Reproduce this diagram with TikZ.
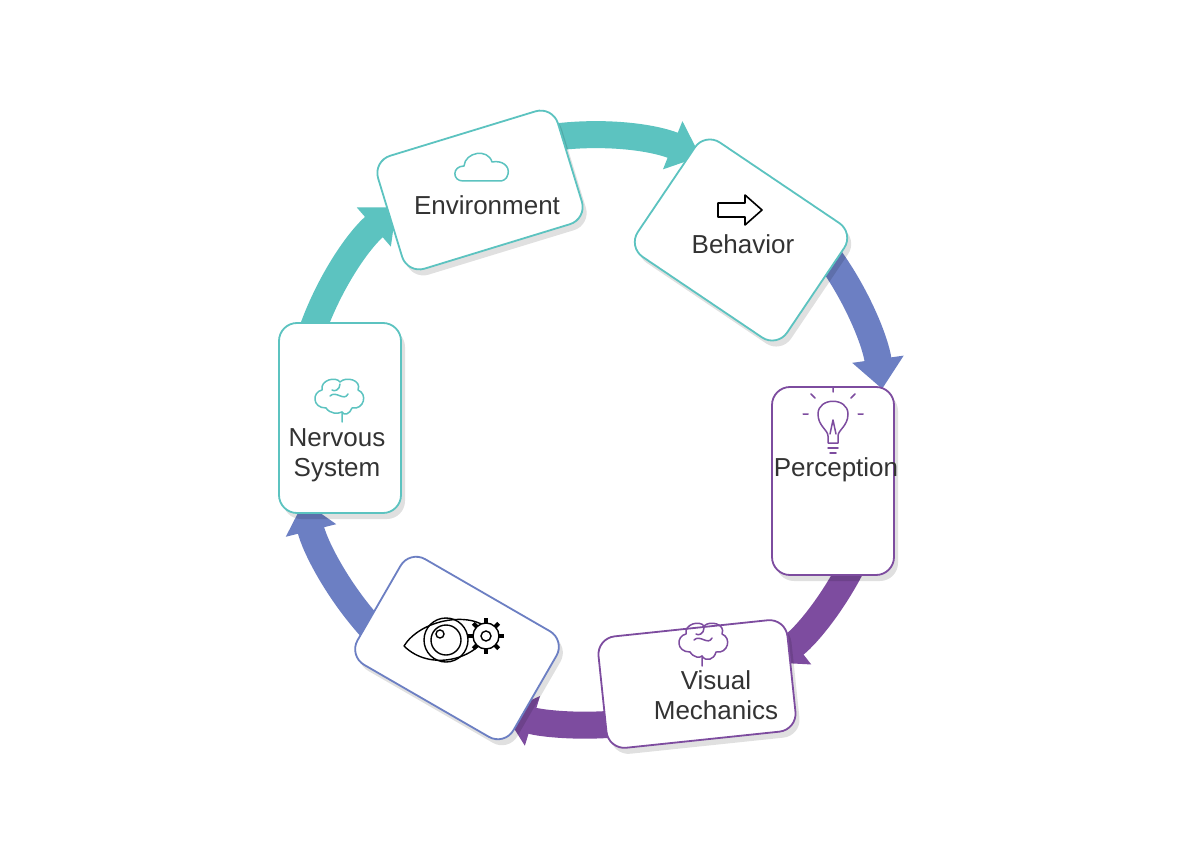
\documentclass[tikz,border=0pt]{standalone}
\usepackage{fontspec}
\setmainfont{Liberation Sans}
\usetikzlibrary{arrows.meta,shadows,calc}
\definecolor{teal}{HTML}{5CC3C0}
\definecolor{bluep}{HTML}{6C7FC3}
\definecolor{purp}{HTML}{7D4C9F}
\definecolor{txt}{HTML}{333333}
\tikzset{
 box/.style={draw=#1,line width=1.8pt,rounded corners=18pt,fill=white,
   drop shadow={shadow xshift=4pt,shadow yshift=-6pt,opacity=0.12,fill=black}},
 lab/.style={text=txt,font=\fontsize{26}{30}\selectfont,align=center},
 flow/.style={line width=27pt,draw=#1,-{Triangle[width=50pt,length=30pt]}},
 ic/.style={line width=1.5pt,draw=#1,line cap=round,line join=round}
}
\begin{document}
\begin{tikzpicture}[x=1pt,y=-1pt]
\useasboundingbox (0,0) rectangle (1184,864);
\fill[white] (0,0) rectangle (1184,864);
\coordinate (c) at (590,430);
% arrows
\draw[flow=teal] ($(c)+(-100:295)$) arc[start angle=-100,end angle=-68,radius=295];
\draw[flow=bluep] ($(c)+(-36:295)$) arc[start angle=-36,end angle=-8,radius=295];
\draw[flow=purp] ($(c)+(24:295)$) arc[start angle=24,end angle=52,radius=295];
\draw[flow=purp] ($(c)+(84:295)$) arc[start angle=84,end angle=107,radius=295];
\draw[flow=bluep] ($(c)+(138:295)$) arc[start angle=138,end angle=166,radius=295];
\draw[flow=teal] ($(c)+(198:295)$) arc[start angle=198,end angle=229,radius=295];
% boxes
\node[box=teal,minimum width=188pt,minimum height=118pt,rotate=17] (env) at (480,190) {};
\node[box=teal,minimum width=180pt,minimum height=138pt,rotate=-34] (beh) at (741,240) {};
\node[box=purp,minimum width=122pt,minimum height=188pt] (per) at (833,481) {};
\node[box=purp,minimum width=190pt,minimum height=112pt,rotate=6] (vis) at (697,684) {};
\node[box=bluep,minimum width=180pt,minimum height=122pt,rotate=-30] (eye) at (457,648) {};
\node[box=teal,minimum width=122pt,minimum height=190pt] (ner) at (340,418) {};
% labels
\node[lab] (tenv) at (487,205) {Environment};
\node[lab] (tbeh) at (743,244) {Behavior};
\node[lab] (tper) at (836,470) {Perception};
\node[lab] (tvis) at (716,695) {Visual\\Mechanics};
\node[lab] (tner) at (337,455) {Nervous\\System};
% cloud icon
\draw[ic=teal] (463,181) .. controls (452,181) and (452,166) .. (464,166)
  .. controls (465,152) and (488,148) .. (492,162)
  .. controls (502,160) and (510,166) .. (508,174)
  .. controls (507,180) and (502,181) .. (500,181) -- cycle;
% arrow icon
\draw[ic=black,line width=1.6pt] (718,203) -- (745,203) -- (745,195) -- (762,210) -- (745,225) -- (745,217) -- (718,217) -- cycle;
% bulb
\draw[ic=purp] (828,443) -- (828,436) .. controls (828,430) and (818,426) .. (818,414)
  .. controls (818,397) and (848,397) .. (848,414) .. controls (848,426) and (838,430) .. (838,436) -- (838,443) -- cycle;
\draw[ic=purp] (828,448) -- (838,448) (830,453) -- (836,453);
\draw[ic=purp] (830,434) -- (833,420) -- (836,434);
\draw[ic=purp] (833,392) -- (833,387) (815,398) -- (811,394) (851,398) -- (855,394) (808,414) -- (803,414) (858,414) -- (863,414);
% brain visual
\draw[ic=purp] (690,652) .. controls (676,652) and (676,636) .. (686,634)
  .. controls (684,624) and (700,620) .. (704,626) .. controls (710,620) and (726,624) .. (722,634)
  .. controls (732,638) and (728,654) .. (716,652) .. controls (714,660) and (706,662) .. (702,656) -- (702,666);
\draw[ic=purp] (690,652) .. controls (694,658) and (700,658) .. (702,656);
\draw[ic=purp] (694,640) .. controls (700,634) and (708,646) .. (712,638) (704,628) .. controls (704,634) and (698,636) .. (696,634);
% brain nervous
\draw[ic=teal] (326,408) .. controls (312,408) and (312,392) .. (322,390)
  .. controls (320,380) and (336,376) .. (340,382) .. controls (346,376) and (362,380) .. (358,390)
  .. controls (368,394) and (364,410) .. (352,408) .. controls (350,414) and (344,416) .. (342,412) -- (342,422);
\draw[ic=teal] (326,408) .. controls (330,414) and (338,414) .. (342,412);
\draw[ic=teal] (330,396) .. controls (336,390) and (344,402) .. (348,394) (340,384) .. controls (340,390) and (334,392) .. (332,390);
% eye + gear
\draw[ic=black,line width=1.4pt] (404,646) .. controls (420,620) and (470,610) .. (490,630)
  .. controls (478,660) and (430,672) .. (404,646) -- cycle;
\draw[black,line width=1.4pt] (446,640) circle[radius=22];
\draw[black,line width=1.4pt] (446,640) circle[radius=15];
\draw[black,line width=1.4pt] (440,634) circle[radius=4];
\begin{scope}[shift={(486,636)}]
\foreach \a in {0,45,...,315}
  \draw[black,line width=4pt] (\a:12) -- (\a:18);
\fill[white] (0,0) circle[radius=13];
\draw[black,line width=1.4pt] (0,0) circle[radius=13];
\draw[black,line width=1.4pt] (0,0) circle[radius=5];
\end{scope}
\end{tikzpicture}
\end{document}
